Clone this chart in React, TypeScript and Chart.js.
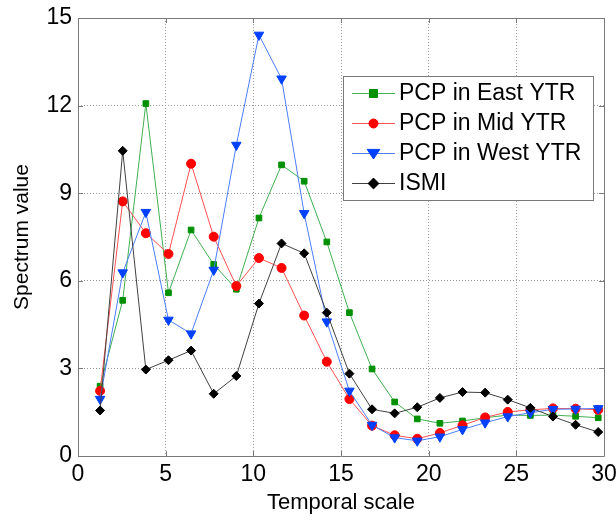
import React, { useEffect, useRef } from "react";
import { Chart, registerables } from "chart.js";

Chart.register(...registerables);

const xValues = [1.26, 2.55, 3.87, 5.16, 6.45, 7.74, 9.03, 10.32, 11.61, 12.9, 14.19, 15.48, 16.77, 18.06, 19.35, 20.64, 21.93, 23.22, 24.51, 25.8, 27.09, 28.38, 29.67];
const eastValues = [2.39, 5.33, 12.07, 5.59, 7.74, 6.56, 5.71, 8.15, 9.97, 9.41, 7.33, 4.91, 2.98, 1.85, 1.27, 1.12, 1.2, 1.31, 1.4, 1.39, 1.4, 1.36, 1.31];
const midValues = [2.23, 8.72, 7.63, 6.92, 10.01, 7.51, 5.82, 6.78, 6.44, 4.81, 3.23, 1.95, 1.04, 0.71, 0.59, 0.79, 1.05, 1.32, 1.51, 1.58, 1.63, 1.62, 1.58];
const westValues = [1.95, 6.28, 8.35, 4.66, 4.19, 6.37, 10.65, 14.42, 12.92, 8.31, 4.6, 2.23, 1.06, 0.63, 0.52, 0.66, 0.91, 1.14, 1.35, 1.48, 1.6, 1.61, 1.63];
const ismiValues = [1.56, 10.45, 2.96, 3.28, 3.61, 2.13, 2.74, 5.22, 7.28, 6.94, 4.91, 2.82, 1.6, 1.46, 1.67, 1.99, 2.19, 2.17, 1.93, 1.65, 1.35, 1.07, 0.82];

const seriesNames = ["PCP in East YTR", "PCP in Mid YTR", "PCP in West YTR", "ISMI"];
const xTicks = [0, 5, 10, 15, 20, 25, 30];
const yTicks = [0, 3, 6, 9, 12, 15];

const FONT = "'Liberation Sans', Arial, sans-serif";

function toPoints(ys: number[]) {
  return ys.map((y, i) => ({ x: xValues[i], y }));
}

function drawMarker(ctx: CanvasRenderingContext2D, style: string, r: number, x: number, y: number) {
  ctx.beginPath();
  if (style === "rect") {
    ctx.rect(x - r, y - r, 2 * r, 2 * r);
  } else if (style === "circle") {
    ctx.arc(x, y, r, 0, Math.PI * 2);
  } else if (style === "rectRot") {
    ctx.moveTo(x, y - r * 1.2);
    ctx.lineTo(x + r * 1.2, y);
    ctx.lineTo(x, y + r * 1.2);
    ctx.lineTo(x - r * 1.2, y);
    ctx.closePath();
  } else {
    const h = r * 1.5;
    ctx.moveTo(x - r * 1.15, y - h / 2);
    ctx.lineTo(x + r * 1.15, y - h / 2);
    ctx.lineTo(x, y + h / 1.5);
    ctx.closePath();
  }
  ctx.fill();
  ctx.stroke();
}

const boxPlugin = {
  id: "matlabBox",
  afterDraw(chart: any) {
    const { ctx, chartArea } = chart;
    const { left, right, top, bottom } = chartArea;
    const xs = chart.scales.x;
    const ys = chart.scales.y;
    ctx.save();
    ctx.strokeStyle = "#7a7a7a";
    ctx.lineWidth = 1;
    ctx.setLineDash([]);
    ctx.beginPath();
    ctx.rect(Math.round(left) + 0.5, Math.round(top) + 0.5, Math.round(right - left), Math.round(bottom - top));
    ctx.stroke();
    const tl = 5;
    ctx.beginPath();
    xTicks.forEach((t) => {
      const px = Math.round(xs.getPixelForValue(t)) + 0.5;
      ctx.moveTo(px, bottom);
      ctx.lineTo(px, bottom - tl);
      ctx.moveTo(px, top);
      ctx.lineTo(px, top + tl);
    });
    yTicks.forEach((t) => {
      const py = Math.round(ys.getPixelForValue(t)) + 0.5;
      ctx.moveTo(left, py);
      ctx.lineTo(left + tl, py);
      ctx.moveTo(right, py);
      ctx.lineTo(right - tl, py);
    });
    ctx.stroke();

    // legend
    const lx = 343.5, ly = 76.5, lw = 250, lh = 124;
    ctx.fillStyle = "#ffffff";
    ctx.fillRect(lx, ly, lw, lh);
    ctx.strokeStyle = "#7a7a7a";
    ctx.strokeRect(lx, ly, lw, lh);
    const rowYs = [93, 123, 153, 183];
    seriesNames.forEach((name, i) => {
      const ds = chart.data.datasets.find((d: any) => d.label === name);
      if (!ds) return;
      const y = rowYs[i];
      ctx.strokeStyle = ds.borderColor;
      ctx.lineWidth = 1;
      ctx.beginPath();
      ctx.moveTo(352, y + 0.5);
      ctx.lineTo(395, y + 0.5);
      ctx.stroke();
      ctx.fillStyle = ds.pointBackgroundColor;
      ctx.strokeStyle = ds.pointBorderColor;
      drawMarker(ctx, ds.pointStyle, ds.pointRadius, 373.5, y + 0.5);
      ctx.fillStyle = "#000";
      ctx.font = `23px ${FONT}`;
      ctx.textBaseline = "middle";
      ctx.textAlign = "left";
      ctx.fillText(name, 399, y + 1);
    });
    ctx.restore();
  },
};

export default function App() {
  const ref = useRef<HTMLCanvasElement | null>(null);
  useEffect(() => {
    if (!ref.current) return;
    const mk = (label: string, data: number[], line: string, pt: string, style: string, r: number, rot: number, order: number) => ({
      label,
      data: toPoints(data),
      borderColor: line,
      borderWidth: 1,
      backgroundColor: pt,
      pointBackgroundColor: pt,
      pointBorderColor: pt,
      pointBorderWidth: 1,
      pointStyle: style,
      pointRadius: r,
      pointRotation: rot,
      pointHoverRadius: r,
      tension: 0,
      fill: false,
      order,
    });
    const chart: any = new Chart(ref.current, {
      type: "line",
      data: {
        datasets: [
          mk(seriesNames[0], eastValues, "#40b050", "#009000", "rect", 4, 0, 4),
          mk(seriesNames[1], midValues, "#ff5050", "#ff0000", "circle", 4.5, 0, 3),
          mk(seriesNames[2], westValues, "#4a7dff", "#0040ff", "triangle", 5.5, 180, 2),
          mk(seriesNames[3], ismiValues, "#404040", "#000000", "rectRot", 4.5, 0, 1),
        ] as any,
      },
      options: {
        responsive: false,
        animation: false,
        devicePixelRatio: 1,
        layout: { autoPadding: false, padding: { top: 18, right: 12, left: 0, bottom: 0 } },
        plugins: { legend: { display: false }, tooltip: { enabled: false } },
        scales: {
          x: {
            type: "linear",
            min: 0,
            max: 30,
            afterFit: (s: any) => { s.height = 65; s.paddingLeft = 0; s.paddingRight = 0; },
            afterBuildTicks: (s: any) => { s.ticks = xTicks.map((v) => ({ value: v })); },
            ticks: { color: "#000", font: { family: FONT, size: 23 }, padding: 5, maxRotation: 0 },
            grid: { color: "#9a9a9a", drawTicks: false, lineWidth: 1 },
            border: { display: false, dash: [1, 2] },
            title: { display: true, text: "Temporal scale", color: "#000", font: { family: FONT, size: 22 }, padding: { top: 0, bottom: 5 } },
          },
          y: {
            type: "linear",
            min: 0,
            max: 15,
            afterFit: (s: any) => { s.width = 78; s.paddingTop = 0; s.paddingBottom = 0; },
            afterBuildTicks: (s: any) => { s.ticks = yTicks.map((v) => ({ value: v })); },
            ticks: { color: "#000", font: { family: FONT, size: 23 }, padding: 6 },
            grid: { color: "#9a9a9a", drawTicks: false, lineWidth: 1 },
            border: { display: false, dash: [1, 2] },
            title: { display: true, text: "Spectrum value", color: "#000", font: { family: FONT, size: 21 }, padding: { top: 10, bottom: 0 } },
          },
        },
      },
      plugins: [boxPlugin as any],
    });
    return () => chart.destroy();
  }, []);
  return (
    <div style={{ position: "absolute", left: 0, top: 0, width: 616, height: 521, background: "#fff" }}>
      <canvas ref={ref} width={616} height={521} />
    </div>
  );
}
